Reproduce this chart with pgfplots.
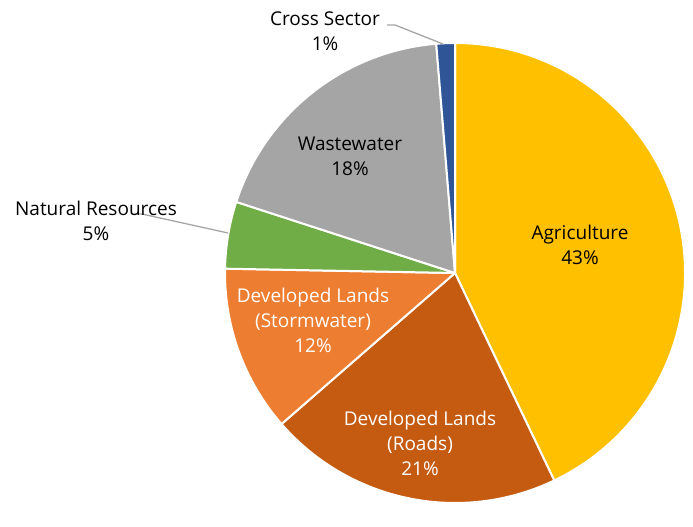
\documentclass[border=0pt]{standalone}
\usepackage{pgfplots}
\usepackage{pgfplotstable}
\pgfplotsset{compat=1.18}
\usepackage{fontspec}
\setmainfont{Open Sans}

\definecolor{c0}{HTML}{FFC000}
\definecolor{c1}{HTML}{C55A11}
\definecolor{c2}{HTML}{ED7D31}
\definecolor{c3}{HTML}{70AD47}
\definecolor{c4}{HTML}{A5A5A5}
\definecolor{c5}{HTML}{2F5597}
\definecolor{leader}{HTML}{A6A6A6}

% shares in percent, clockwise from 12 o'clock
\pgfplotstableread[col sep=comma]{
sector,share
Agriculture,42.9
Roads,20.7
Stormwater,11.7
Natural,4.7
Wastewater,18.7
Cross,1.3
}\shares
\pgfplotstablecreatecol[create col/expr accum={\pgfmathaccuma + \thisrow{share}}{0}]{cum}\shares

\begin{document}
\begin{tikzpicture}[lbl/.style={font=\fontsize{19}{25}\selectfont, align=center, inner sep=0pt}]
\begin{axis}[hide axis, scale only axis, width=693pt, height=502pt,
    xmin=0, xmax=693, ymin=0, ymax=502, disabledatascaling, clip=false]
  \path (axis cs:0,0) rectangle (axis cs:693,502);
  \pgfplotsinvokeforeach{0,...,5}{
    \pgfplotstablegetelem{#1}{share}\of\shares \let\sh\pgfplotsretval
    \pgfplotstablegetelem{#1}{cum}\of\shares \let\cu\pgfplotsretval
    \pgfmathsetmacro\angA{90-3.6*(\cu-\sh)}
    \pgfmathsetmacro\angB{90-3.6*\cu}
    \edef\wedge{\noexpand\filldraw[c#1, draw=white, line width=2pt, line join=round]
      (axis cs:455,229) -- (axis cs:{455+230*cos(\angA)},{229+230*sin(\angA)})
      arc[start angle=\angA, end angle=\angB, radius=230pt] -- cycle;}
    \wedge
  }
  \draw[leader, line width=1.3pt] (axis cs:387,477) -- (axis cs:395,477) -- (axis cs:443,458);
  \draw[leader, line width=1.3pt] (axis cs:134,288) -- (axis cs:142,288) -- (axis cs:228,269);
  \node[lbl] at (axis cs:325,471) {Cross Sector\\1\%};
  \node[lbl] at (axis cs:96,281) {Natural Resources\\5\%};
  \node[lbl] at (axis cs:350,346) {Wastewater\\18\%};
  \node[lbl] at (axis cs:580,257) {Agriculture\\43\%};
  \node[lbl, white] at (axis cs:313,182) {Developed Lands\\(Stormwater)\\12\%};
  \node[lbl, white] at (axis cs:420,59) {Developed Lands\\(Roads)\\21\%};
\end{axis}
\end{tikzpicture}
\end{document}
